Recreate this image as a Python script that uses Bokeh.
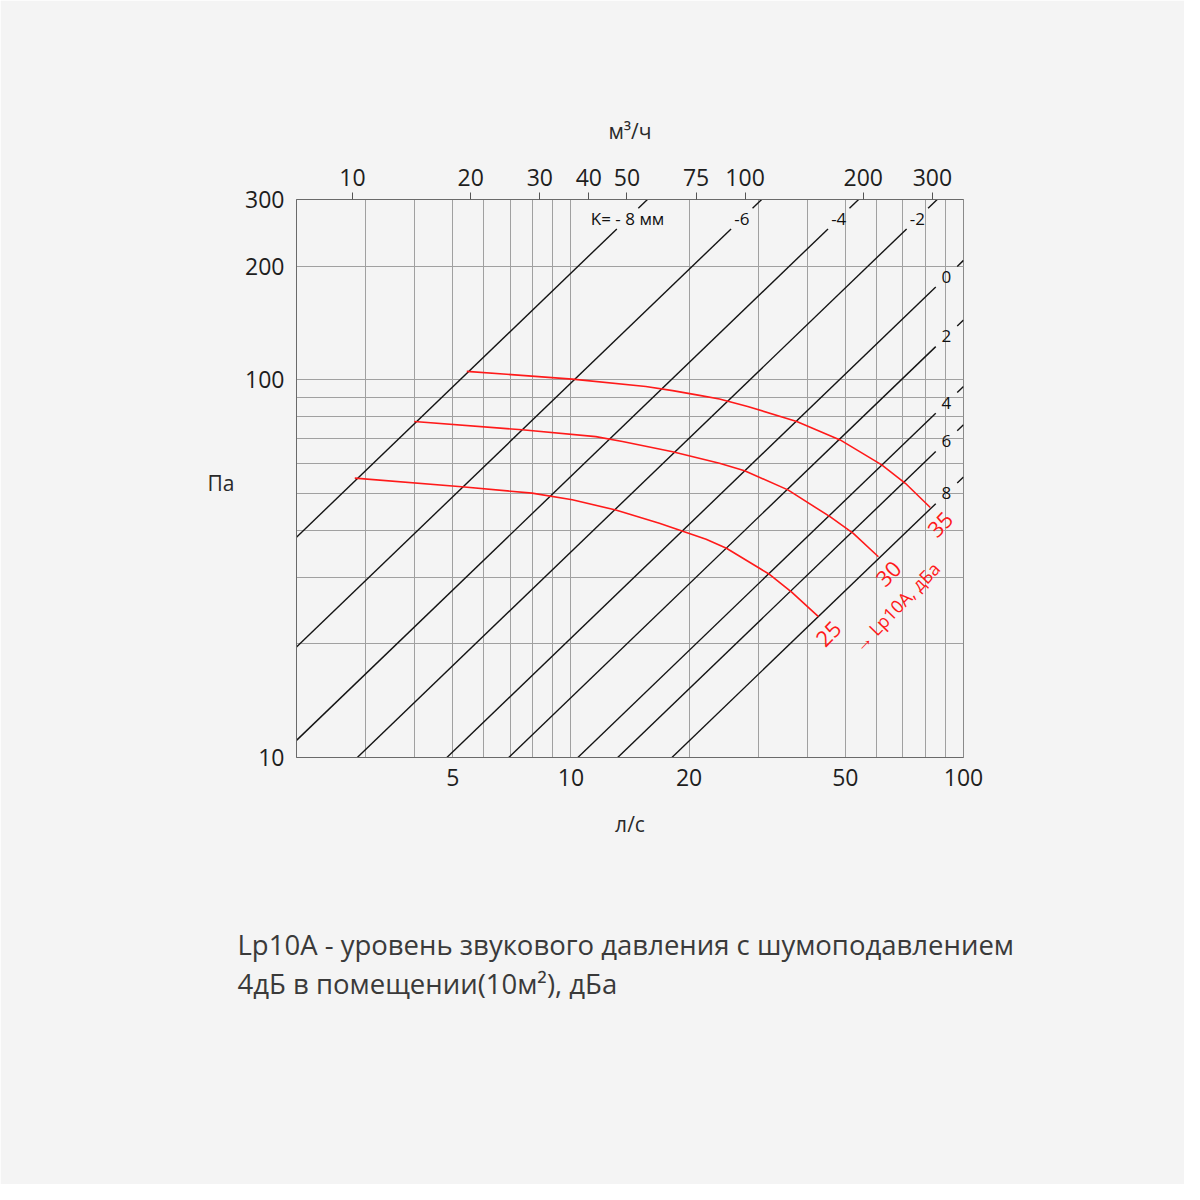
import numpy as np
from bokeh.plotting import figure
from bokeh.models import (LogAxis, Range1d, FixedTicker, Label, LogScale, PrintfTickFormatter,
                          CustomJSTickFormatter, Title)
from bokeh.embed import file_html
from bokeh.resources import INLINE

FONT = "Open Sans"
BG = "#f4f4f4"
RED = "#ff1a1a"

# ---------------- data ----------------
x_ticks_ls = [5, 10, 20, 50, 100]                      # л/с
x_ticks_m3h = [10, 20, 30, 40, 50, 75, 100, 200, 300]  # м³/ч
y_ticks = [10, 100, 200, 300]                          # Па
x_grid = [3, 4, 5, 6, 7, 8, 9, 10, 20, 30, 40, 50, 60, 70, 80, 90]
y_grid = [20, 30, 40, 50, 60, 70, 80, 90, 100, 200]

# K-lines: p = coef * q  (Па, л/с)
k_labels = ["K= - 8 мм", "-6", "-4", "-2", "0", "2", "4", "6", "8"]
k_coef = [19.15, 9.8, 5.55, 3.5, 2.07, 1.44, 0.96, 0.76, 0.553]

# Lp10A curves
lp_names = ["25", "30", "35"]
lp25_q = [2.815, 5.27, 7.96, 10.08, 13.01, 16.8, 22.1, 24.9, 32.1, 36.5, 42.7]
lp25_p = [54.9, 52.1, 50.1, 48.1, 45.2, 41.7, 37.8, 35.8, 30.5, 27.4, 23.6]
lp30_q = [3.99, 7.51, 11.57, 13.53, 18.16, 23.9, 27.7, 35.7, 45.7, 52.4, 60.7]
lp30_p = [77.5, 73.7, 70.7, 68.6, 64.5, 60.1, 57.4, 51.1, 43.4, 39.2, 34.0]
lp35_q = [5.43, 10.08, 15.52, 18.16, 21.26, 23.9, 28.2, 37.6, 48.5, 61.9, 71.1, 82.3]
lp35_p = [105.2, 100.4, 96.0, 93.6, 90.9, 88.9, 85.0, 77.5, 69.3, 59.5, 53.2, 45.9]

Q_MIN, Q_MAX = 2, 100
P_MIN, P_MAX = 10, 300
M3H_PER_LS = 3.6
PA_LABEL_AT = 53.3

# ---------------- figure ----------------
p = figure(width=1184, height=1184, x_axis_type="log", y_axis_type="log",
           x_range=Range1d(Q_MIN, Q_MAX), y_range=Range1d(P_MIN, P_MAX),
           min_border_left=296, min_border_right=221, min_border_top=199, min_border_bottom=427,
           output_backend="svg", toolbar_location=None,
           background_fill_color=BG, border_fill_color=BG,
           outline_line_color="#8a8a8a", outline_line_width=1)

bottom = p.below[0]
left = p.left[0]

p.extra_x_ranges = {"m3h": Range1d(Q_MIN * M3H_PER_LS, Q_MAX * M3H_PER_LS)}
p.extra_x_scales = {"m3h": LogScale()}
top = LogAxis(x_range_name="m3h", ticker=FixedTicker(ticks=x_ticks_m3h),
              formatter=PrintfTickFormatter(format="%d"), axis_label="м³/ч")
p.add_layout(top, "above")

bottom.ticker = FixedTicker(ticks=x_ticks_ls)
bottom.formatter = PrintfTickFormatter(format="%d")
bottom.axis_label = "л/с"
left.ticker = FixedTicker(ticks=y_ticks)
left.formatter = PrintfTickFormatter(format="%d")

for ax in (bottom, left, top):
    ax.axis_line_color = "#6a6a6a"
    ax.axis_line_width = 1
    ax.major_label_text_font = FONT
    ax.major_label_text_font_size = "23px"
    ax.major_label_text_color = "#1e1e1e"
    ax.minor_tick_line_color = None
    ax.axis_label_text_font = FONT
    ax.axis_label_text_font_size = "21px"
    ax.axis_label_text_font_style = "normal"
    ax.axis_label_text_color = "#2a2a2a"

for ax in (bottom, left):
    ax.major_tick_out = 0
    ax.major_tick_in = 0
    ax.major_tick_line_color = None
bottom.major_label_standoff = 11
bottom.axis_label_standoff = 21
left.major_label_standoff = 12
top.major_tick_out = 7
top.major_tick_in = 0
top.major_tick_line_color = "#555555"
top.major_label_standoff = 7
top.axis_label_standoff = 21

# "Па" as a horizontal label on an outer left axis
pa_axis = LogAxis(ticker=FixedTicker(ticks=[PA_LABEL_AT]),
                  formatter=CustomJSTickFormatter(code="return 'Па'"),
                  axis_line_color=None, major_tick_line_color=None, minor_tick_line_color=None,
                  major_tick_out=0, major_tick_in=0, major_label_standoff=8,
                  major_label_text_font=FONT, major_label_text_font_size="21px",
                  major_label_text_color="#2a2a2a")
p.add_layout(pa_axis, "left")

p.xgrid.ticker = FixedTicker(ticks=x_grid)
p.ygrid.ticker = FixedTicker(ticks=y_grid)
for g in (p.xgrid[0], p.ygrid[0]):
    g.grid_line_color = "#a0a0a0"
    g.grid_line_width = 1

# ---------------- K lines ----------------
GAP = 1.065
TOP_LABEL_P = 267
RIGHT_LABEL_Q = 90.5
xs, ys = [], []
for lab, c in zip(k_labels, k_coef):
    q0 = max(Q_MIN, P_MIN / c)
    q1 = min(Q_MAX, P_MAX / c)
    if P_MAX / c < Q_MAX:
        qL = TOP_LABEL_P / c
    else:
        qL = RIGHT_LABEL_Q
    for a, b in ((q0, qL / GAP), (qL * GAP, q1)):
        xs.append([a, b])
        ys.append([c * a, c * b])
    p.add_layout(Label(x=qL, y=c * qL, text=lab, text_align="center", text_baseline="middle",
                       text_font=FONT, text_font_size="17px", text_color="#111111"))
p.multi_line(xs, ys, line_color="#141414", line_width=1.4)

# ---------------- Lp10A curves ----------------
curves = [(lp25_q, lp25_p), (lp30_q, lp30_p), (lp35_q, lp35_p)]
ang = np.radians(46)
for name, (qq, pp) in zip(lp_names, curves):
    p.line(qq, pp, line_color=RED, line_width=1.6)
    p.add_layout(Label(x=qq[-1], y=pp[-1], x_offset=10, y_offset=-17, angle=ang,
                       text=name, text_align="center", text_baseline="middle",
                       text_font=FONT, text_font_size="22px", text_color=RED))
p.add_layout(Label(x=lp30_q[-1], y=lp30_p[-1], x_offset=18, y_offset=-50, angle=ang,
                   text="→ Lp10A, дБа", text_align="center", text_baseline="middle",
                   text_font=FONT, text_font_size="18px", text_color=RED))

# ---------------- caption below ----------------
spacer = Title(text="\u00a0", align="left", standoff=45, text_font=FONT,
               text_font_size="26px", text_font_style="normal", text_color=BG)
t1 = Title(text="Lp10A - уровень звукового давления с шумоподавлением", align="left",
           offset=-59, standoff=0, text_font=FONT, text_font_size="27.5px",
           text_font_style="normal", text_color="#3a3a3a")
t2 = Title(text="4дБ в помещении(10м²), дБа", align="left",
           offset=-59, standoff=0, text_font=FONT, text_font_size="27.5px",
           text_font_style="normal", text_color="#3a3a3a")
p.add_layout(spacer, "below")
p.add_layout(t1, "below")
p.add_layout(t2, "below")

open("out.html", "w").write(file_html(p, INLINE))
